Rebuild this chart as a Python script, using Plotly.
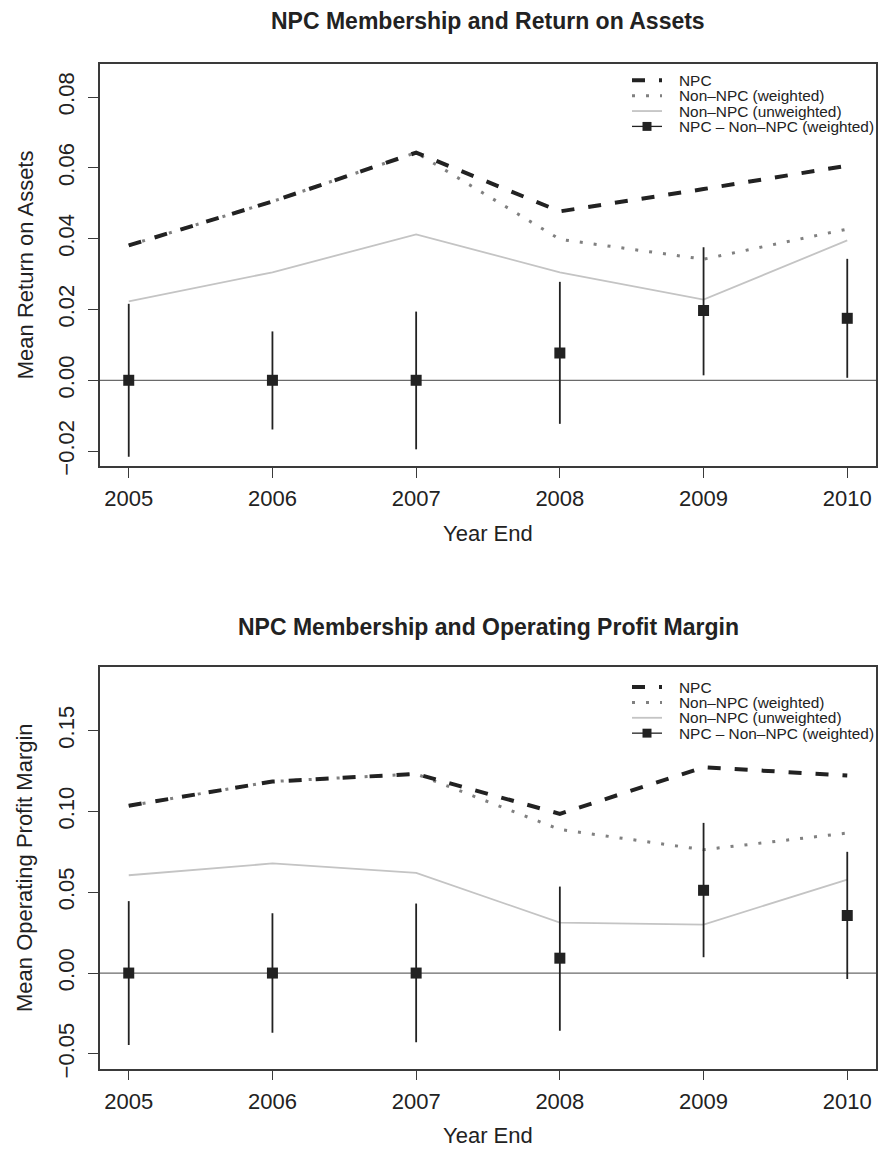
import plotly.graph_objects as go

# ---- data -------------------------------------------------------------
years = [2005, 2006, 2007, 2008, 2009, 2010]

roa_npc = [0.0381, 0.0505, 0.0643, 0.0477, 0.0540, 0.0606]
roa_non_w = [0.0381, 0.0505, 0.0643, 0.0398, 0.0342, 0.0427]
roa_non_u = [0.0223, 0.0305, 0.0412, 0.0305, 0.0228, 0.0395]
roa_diff = [0.0, 0.0, 0.0, 0.0077, 0.0197, 0.0175]
roa_lo = [-0.0216, -0.0139, -0.0195, -0.0123, 0.0014, 0.0007]
roa_hi = [0.0216, 0.0138, 0.0194, 0.0278, 0.0376, 0.0343]

opm_npc = [0.1035, 0.1185, 0.1232, 0.0985, 0.1273, 0.1222]
opm_non_w = [0.1035, 0.1185, 0.1232, 0.0888, 0.0763, 0.0866]
opm_non_u = [0.0605, 0.0678, 0.0620, 0.0312, 0.0300, 0.0578]
opm_diff = [0.0, 0.0, 0.0, 0.0092, 0.0512, 0.0356]
opm_lo = [-0.0445, -0.0370, -0.0428, -0.0357, 0.0098, -0.0037]
opm_hi = [0.0445, 0.0370, 0.0430, 0.0535, 0.0929, 0.0750]

roa_ticks = [-0.02, 0.00, 0.02, 0.04, 0.06, 0.08]
opm_ticks = [-0.05, 0.00, 0.05, 0.10, 0.15]

legend_labels = ["NPC", "Non–NPC (weighted)", "Non–NPC (unweighted)",
                 "NPC – Non–NPC (weighted)"]

titles = ["NPC Membership and Return on Assets",
          "NPC Membership and Operating Profit Margin"]
ytitles = ["Mean Return on Assets", "Mean Operating Profit Margin"]

# ---- page geometry (pixels) --------------------------------------------
W, H = 878, 1165
FONT = "Liberation Sans, Arial, Helvetica, sans-serif"
INK = "#222222"
FRAME = "#3a3a3a"
DASH_NPC = "13px,14px"
DOT_W = "3px,11px"
TICK_SIZE = 22
LAB_SIZE = 22

def px(x):
    return x / W

def py(y):
    return 1 - y / H

panels = [
    dict(top=65, bottom=470, yr=[-0.0242, 0.0892], ticks=roa_ticks,
         npc=roa_npc, w=roa_non_w, u=roa_non_u, d=roa_diff, lo=roa_lo, hi=roa_hi,
         title_y=21, xt_y=538, leg_y=81),
    dict(top=673, bottom=1078, yr=[-0.0592, 0.1892], ticks=opm_ticks,
         npc=opm_npc, w=opm_non_w, u=opm_non_u, d=opm_diff, lo=opm_lo, hi=opm_hi,
         title_y=632, xt_y=1145, leg_y=693),
]

X_LEFT, X_RIGHT = 100, 876

fig = go.Figure()
shapes = []
annotations = []

for i, p in enumerate(panels):
    n = "" if i == 0 else str(i + 1)
    xa, ya = "x" + n, "y" + n

    fig.add_trace(go.Scatter(x=years, y=p["u"], xaxis=xa, yaxis=ya, mode="lines",
                             line=dict(color="#c4c4c4", width=1.8), showlegend=False))
    fig.add_trace(go.Scatter(x=years, y=p["w"], xaxis=xa, yaxis=ya, mode="lines",
                             line=dict(color="#808080", width=3, dash=DOT_W),
                             showlegend=False))
    fig.add_trace(go.Scatter(x=years, y=p["npc"], xaxis=xa, yaxis=ya, mode="lines",
                             line=dict(color=INK, width=4, dash=DASH_NPC),
                             showlegend=False))
    err_plus = [h - d for h, d in zip(p["hi"], p["d"])]
    err_minus = [d - l for l, d in zip(p["lo"], p["d"])]
    fig.add_trace(go.Scatter(x=years, y=p["d"], xaxis=xa, yaxis=ya, mode="markers",
                             marker=dict(symbol="square", size=11, color=INK),
                             error_y=dict(type="data", symmetric=False, array=err_plus,
                                          arrayminus=err_minus, width=0,
                                          thickness=1.8, color=INK),
                             showlegend=False))

    # horizontal reference line at zero
    shapes.append(dict(type="line", xref=xa + " domain", yref=ya, x0=0, x1=1,
                       y0=0, y1=0, line=dict(color="#6a6a6a", width=1.3),
                       layer="below"))

    dom_y = [py(p["bottom"]), py(p["top"])]
    fig.layout["xaxis" + n] = dict(
        domain=[px(X_LEFT), px(X_RIGHT)], range=[2004.8, 2010.2], anchor=ya,
        tickvals=years, ticktext=[str(y) for y in years], ticks="outside",
        ticklen=10, tickwidth=1.2, tickcolor=FRAME, showline=True, mirror=True,
        linecolor=FRAME, linewidth=1.5, showgrid=False, zeroline=False,
        tickfont=dict(family=FONT, size=TICK_SIZE, color=INK), ticklabelstandoff=2)
    fig.layout["yaxis" + n] = dict(
        domain=dom_y, range=p["yr"], anchor=xa, tickvals=p["ticks"],
        tickformat=".2f", ticks="outside", ticklen=10, tickwidth=1.2,
        tickcolor=FRAME, showline=True, mirror=True, linecolor=FRAME,
        linewidth=1.5, showgrid=False, zeroline=False, tickangle=-90,
        tickfont=dict(family=FONT, size=TICK_SIZE, color=INK), ticklabelstandoff=5)

    annotations.append(dict(text="<b>" + titles[i] + "</b>", xref="paper",
                            yref="paper", x=px(488), y=py(p["title_y"]),
                            showarrow=False, xanchor="center", yanchor="middle",
                            font=dict(family=FONT, size=23, color=INK)))
    annotations.append(dict(text="Year End", xref="paper", yref="paper",
                            x=px(488), y=py(p["xt_y"]), showarrow=False,
                            xanchor="center", yanchor="middle",
                            font=dict(family=FONT, size=LAB_SIZE, color=INK)))
    annotations.append(dict(text=ytitles[i], xref="paper", yref="paper",
                            x=px(25), y=py((p["top"] + p["bottom"]) / 2),
                            textangle=-90, showarrow=False, xanchor="center",
                            yanchor="middle",
                            font=dict(family=FONT, size=LAB_SIZE, color=INK)))

    # legend key (top-right corner, no box)
    lx0, lx1, ltext = 632, 662, 677
    step = 15.5
    rows = [p["leg_y"] + k * step for k in range(4)]
    styles = [dict(color=INK, width=4, dash=DASH_NPC),
              dict(color="#808080", width=3, dash=DOT_W),
              dict(color="#c4c4c4", width=1.8),
              dict(color=INK, width=1.3)]
    for k, (ry, st) in enumerate(zip(rows, styles)):
        shapes.append(dict(type="line", xref="paper", yref="paper",
                           x0=px(lx0), x1=px(lx1), y0=py(ry), y1=py(ry), line=st))
        annotations.append(dict(text=legend_labels[k], xref="paper", yref="paper",
                                x=px(ltext), y=py(ry), showarrow=False,
                                xanchor="left", yanchor="middle",
                                font=dict(family=FONT, size=15.4, color=INK)))
    cx, cy, hs = (lx0 + lx1) / 2, rows[3], 4.5
    shapes.append(dict(type="rect", xref="paper", yref="paper",
                       x0=px(cx - hs), x1=px(cx + hs), y0=py(cy + hs), y1=py(cy - hs),
                       fillcolor=INK, line=dict(width=0)))

fig.update_layout(width=W, height=H, margin=dict(l=0, r=0, t=0, b=0),
                  paper_bgcolor="white", plot_bgcolor="white",
                  shapes=shapes, annotations=annotations, showlegend=False)

fig.write_html("out.html")
